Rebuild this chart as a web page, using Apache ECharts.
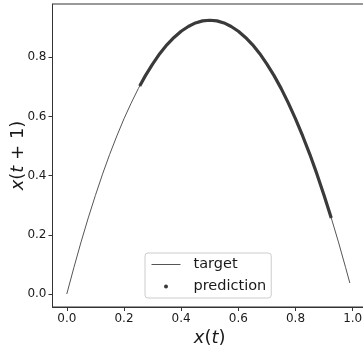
<!DOCTYPE html>
<html>
<head>
<meta charset="utf-8">
<script src="https://cdn.jsdelivr.net/npm/echarts@6/dist/echarts.min.js"></script>
<style>
  html, body { margin: 0; padding: 0; background: #fff; }
  #chart { width: 363px; height: 349px; }
</style>
</head>
<body>
<div id="chart"></div>
<script>
// values
const targetX = [0, 0.025, 0.05, 0.075, 0.1, 0.125, 0.15, 0.175, 0.2, 0.225, 0.25, 0.275, 0.3, 0.325, 0.35, 0.375, 0.4, 0.425, 0.45, 0.475, 0.5,
  0.525, 0.55, 0.575, 0.6, 0.625, 0.65, 0.675, 0.7, 0.725, 0.75, 0.775, 0.8, 0.825, 0.85, 0.875, 0.9, 0.925, 0.95, 0.975, 0.99]
const targetY = [0, 0.090, 0.176, 0.257, 0.333, 0.405, 0.472, 0.534, 0.592, 0.645, 0.694, 0.738, 0.777, 0.812, 0.842, 0.867, 0.888, 0.904, 0.916, 0.923, 0.925,
  0.923, 0.916, 0.904, 0.888, 0.867, 0.842, 0.812, 0.777, 0.738, 0.694, 0.645, 0.592, 0.534, 0.472, 0.405, 0.333, 0.257, 0.176, 0.090, 0.037]

const predX = [0.255, 0.275, 0.3, 0.325, 0.35, 0.375, 0.4, 0.425, 0.45, 0.475, 0.5, 0.525, 0.55, 0.575, 0.6, 0.625, 0.65, 0.675, 0.7, 0.725, 0.75, 0.775, 0.8, 0.825, 0.85, 0.875, 0.9, 0.925]
const predY = [0.703, 0.738, 0.777, 0.812, 0.842, 0.867, 0.888, 0.904, 0.916, 0.923, 0.925, 0.923, 0.916, 0.904, 0.888, 0.867, 0.842, 0.812, 0.777, 0.738, 0.694, 0.645, 0.592, 0.534, 0.472, 0.405, 0.333, 0.257]

const xTicks = [0, 0.2, 0.4, 0.6, 0.8, 1.0]
const yTicks = [0, 0.2, 0.4, 0.6, 0.8]

const font = 'DejaVu Sans'
const ink = '#1a1a1a'

const chart = echarts.init(document.getElementById('chart'))

const mathRich = {
  i: { fontFamily: font, fontStyle: 'italic', fontSize: 18, color: ink },
}

chart.setOption({
  animation: false,
  grid: {
    left: 52.5,
    right: -4,
    top: 4,
    bottom: 42,
    outerBoundsMode: 'none',
    containLabel: false,
    show: true,
    borderColor: '#333',
    borderWidth: 1,
    backgroundColor: 'transparent',
  },
  xAxis: {
    type: 'value',
    min: -0.05,
    max: 1.05,
    name: '{i|x}({i|t})',
    nameLocation: 'middle',
    nameGap: 22,
    nameMoveOverlap: false,
    nameTextStyle: { fontFamily: font, fontSize: 18, color: ink, rich: mathRich },
    axisLine: { show: true, onZero: false, lineStyle: { color: '#333', width: 1 } },
    axisTick: { show: true, length: 4, lineStyle: { color: '#333' }, customValues: xTicks },
    axisLabel: {
      fontFamily: font, fontSize: 12, color: ink, margin: 6,
      customValues: xTicks,
      formatter: v => v.toFixed(1),
    },
    splitLine: { show: false },
  },
  yAxis: {
    type: 'value',
    min: -0.044,
    max: 0.98,
    name: '{i|x}({i|t} + 1)',
    nameLocation: 'middle',
    nameRotate: 90,
    nameGap: 25,
    nameMoveOverlap: false,
    nameTextStyle: { fontFamily: font, fontSize: 18, color: ink, rich: mathRich },
    axisLine: { show: true, onZero: false, lineStyle: { color: '#333', width: 1 } },
    axisTick: { show: true, length: 4, lineStyle: { color: '#333' }, customValues: yTicks },
    axisLabel: {
      fontFamily: font, fontSize: 12, color: ink, margin: 6,
      customValues: yTicks,
      formatter: v => v.toFixed(1),
    },
    splitLine: { show: false },
  },
  legend: {
    orient: 'vertical',
    left: 145,
    top: 253,
    padding: [4, 5, 4, 6],
    itemGap: 7,
    itemWidth: 29,
    itemHeight: 4,
    backgroundColor: '#fff',
    borderColor: '#cccccc',
    borderWidth: 1,
    borderRadius: 3,
    textStyle: { fontFamily: font, fontSize: 14.5, color: ink, padding: [0, 0, 0, 8] },
    data: [
      { name: 'target', itemStyle: { color: 'transparent', borderColor: 'transparent' }, lineStyle: { width: 1, color: '#555' } },
      { name: 'prediction', icon: 'circle' },
    ],
  },
  series: [
    {
      name: 'target',
      type: 'line',
      symbol: 'none',
      lineStyle: { color: '#555', width: 1 },
      itemStyle: { color: '#555' },
      data: targetX.map((x, i) => [x, targetY[i]]),
      z: 2,
    },
    {
      name: 'prediction',
      type: 'line',
      symbol: 'none',
      lineStyle: { color: '#3a3a3a', width: 3.2 },
      itemStyle: { color: '#3a3a3a' },
      data: predX.map((x, i) => [x, predY[i]]),
      z: 3,
    },
  ],
})
</script>
</body>
</html>
